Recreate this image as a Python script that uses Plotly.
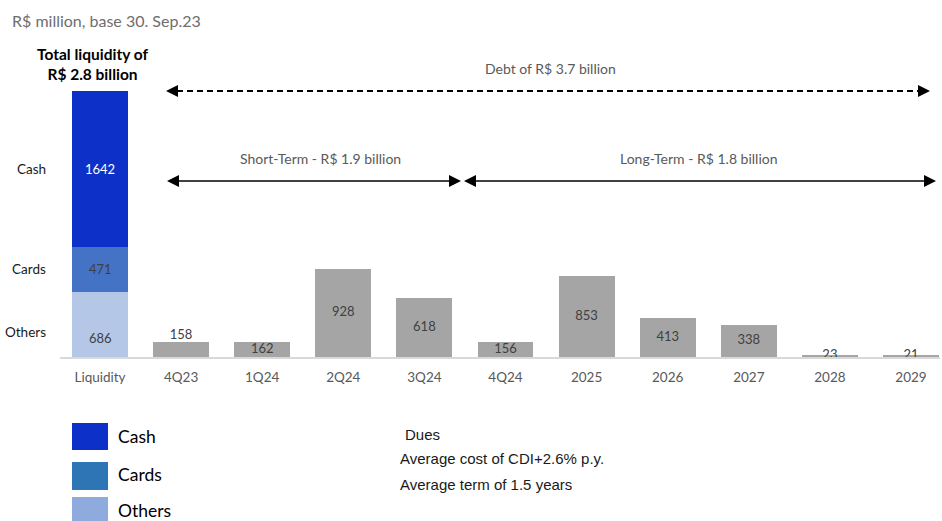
import plotly.graph_objects as go

# ---------------- data ----------------
categories = ["Liquidity", "4Q23", "1Q24", "2Q24", "3Q24", "4Q24",
              "2025", "2026", "2027", "2028", "2029"]
liq_segments = ["Others", "Cards", "Cash"]          # bottom -> top
liq_values = [686, 471, 1642]
debt_values = [158, 162, 928, 618, 156, 853, 413, 338, 23, 21]
debt_label_above = [True, False, False, False, False, False, False, False, False, False]

# ---------------- layout constants ----------------
W, H = 942, 521
L, R, T, B = 60, 2, 0, 164
PW, PH = W - L - R, H - T - B
BAR_W = 0.69
FONT = "Lato"

seg_colors = {"Cash": "#0D31C8", "Cards": "#4472C4", "Others": "#B4C7E7"}
seg_text_col = {"Cash": "#FFFFFF", "Cards": "#404040", "Others": "#404040"}
legend_colors = {"Cash": "#0D31C8", "Cards": "#2E75B6", "Others": "#8FAADC"}
GRAY = "#A5A5A5"


def fx(px):
    return (px - L) / PW


def fy(py):
    return (H - B - py) / PH


fig = go.Figure()

# liquidity stack
for name, v in zip(liq_segments, liq_values):
    fig.add_trace(go.Bar(x=[0], y=[v], width=BAR_W, name=name,
                         marker=dict(color=seg_colors[name], line=dict(width=0)),
                         hoverinfo="skip", showlegend=False))

# debt bars
debt_x = list(range(1, len(categories)))
fig.add_trace(go.Bar(x=debt_x, y=debt_values, width=BAR_W,
                     marker=dict(color=GRAY, line=dict(width=0)),
                     hoverinfo="skip", showlegend=False))

# debt value labels
lab_y = [v if above else v / 2 for v, above in zip(debt_values, debt_label_above)]
lab_pos = ["top center" if above else "middle center" for above in debt_label_above]
fig.add_trace(go.Scatter(x=debt_x, y=lab_y, mode="text",
                         text=[str(v) for v in debt_values],
                         textposition=lab_pos,
                         textfont=dict(family=FONT, size=13, color="#404040"),
                         hoverinfo="skip", showlegend=False))

annotations = []
shapes = []

# stack value labels and left series names
shift_val = {"Cash": 0, "Cards": 0, "Others": -14}
shift_name = {"Cash": 0, "Cards": 0, "Others": -8}
base = 0
for name, v in zip(liq_segments, liq_values):
    mid = base + v / 2
    annotations.append(dict(x=0, y=mid, xref="x", yref="y", text=str(v),
                            showarrow=False, yshift=shift_val[name],
                            font=dict(family=FONT, size=13, color=seg_text_col[name])))
    annotations.append(dict(x=fx(48), y=mid, xref="paper", yref="y", text=name,
                            showarrow=False, xanchor="right", yshift=shift_name[name],
                            font=dict(family=FONT, size=13.5, color="#1A1A1A")))
    base += v

# header texts
annotations.append(dict(x=fx(10), y=fy(20), xref="paper", yref="paper",
                        text="R$ million, base 30. Sep.23", showarrow=False,
                        xanchor="left", yanchor="middle",
                        font=dict(family=FONT, size=16, color="#6E6E6E")))
annotations.append(dict(x=fx(92), y=fy(64), xref="paper", yref="paper",
                        text="<b>Total liquidity of<br>R$ 2.8 billion</b>", showarrow=False,
                        xanchor="center", yanchor="middle",
                        font=dict(family=FONT, size=15.5, color="#000000")))
annotations.append(dict(x=fx(550), y=fy(68), xref="paper", yref="paper",
                        text="Debt of R$ 3.7 billion", showarrow=False,
                        xanchor="center", yanchor="middle",
                        font=dict(family=FONT, size=14, color="#595959")))
annotations.append(dict(x=fx(320), y=fy(158), xref="paper", yref="paper",
                        text="Short-Term - R$ 1.9 billion", showarrow=False,
                        xanchor="center", yanchor="middle",
                        font=dict(family=FONT, size=14, color="#595959")))
annotations.append(dict(x=fx(699), y=fy(158), xref="paper", yref="paper",
                        text="Long-Term - R$ 1.8 billion", showarrow=False,
                        xanchor="center", yanchor="middle",
                        font=dict(family=FONT, size=14, color="#595959")))


def arrow(x1, x2, y, dash=None, width=1.5):
    hl, hh = 12, 6
    shapes.append(dict(type="line", xref="paper", yref="paper",
                       x0=fx(x1 + hl - 1), x1=fx(x2 - hl + 1), y0=fy(y), y1=fy(y),
                       line=dict(color="#000000", width=width, dash=dash)))
    shapes.append(dict(type="path", xref="paper", yref="paper",
                       path=f"M {fx(x1)} {fy(y)} L {fx(x1 + hl)} {fy(y - hh)} L {fx(x1 + hl)} {fy(y + hh)} Z",
                       fillcolor="#000000", line=dict(width=0)))
    shapes.append(dict(type="path", xref="paper", yref="paper",
                       path=f"M {fx(x2)} {fy(y)} L {fx(x2 - hl)} {fy(y - hh)} L {fx(x2 - hl)} {fy(y + hh)} Z",
                       fillcolor="#000000", line=dict(width=0)))


arrow(166, 930, 91, dash="6px,4px", width=2)
arrow(167, 461, 181)
arrow(464, 936, 181)

# legend boxes
leg = [("Cash", 423, 450, 436), ("Cards", 462, 490, 474), ("Others", 497, 524, 510)]
for name, y0, y1, ty in leg:
    shapes.append(dict(type="rect", xref="paper", yref="paper",
                       x0=fx(72), x1=fx(108), y0=fy(y0), y1=fy(y1),
                       fillcolor=legend_colors[name], line=dict(width=0)))
    annotations.append(dict(x=fx(116), y=fy(ty), xref="paper", yref="paper",
                            text=name, showarrow=False, xanchor="left", yanchor="middle",
                            font=dict(family=FONT, size=17.5, color="#000000")))

# dues notes
notes = [("Dues", 403, 434), ("Average cost of CDI+2.6% p.y.", 398, 459),
         ("Average term of 1.5 years", 398, 484)]
for txt, x, y in notes:
    annotations.append(dict(x=fx(x), y=fy(y), xref="paper", yref="paper",
                            text=txt, showarrow=False, xanchor="left", yanchor="middle",
                            font=dict(family="Liberation Sans, Arial", size=15, color="#1A1A1A")))

x0 = -40 / 81.1
fig.update_layout(
    width=W, height=H,
    margin=dict(l=L, r=R, t=T, b=B, autoexpand=False),
    paper_bgcolor="#FFFFFF", plot_bgcolor="#FFFFFF",
    barmode="stack",
    showlegend=False,
    xaxis=dict(range=[x0, x0 + PW / 81.1], tickmode="array",
               tickvals=list(range(len(categories))), ticktext=categories,
               showgrid=False, zeroline=False, showline=True,
               linecolor="#D9D9D9", linewidth=1.5, ticks="",
               ticklabelstandoff=7,
               tickfont=dict(family=FONT, size=13.5, color="#595959")),
    yaxis=dict(range=[0, 3750], visible=False, showgrid=False, zeroline=False),
    annotations=annotations,
    shapes=shapes,
)

fig.write_html("out.html")
